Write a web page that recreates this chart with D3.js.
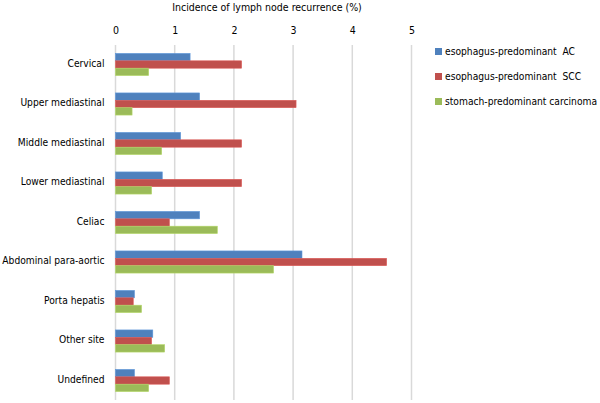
<!DOCTYPE html>
<html><head><meta charset="utf-8">
<script src="https://cdn.jsdelivr.net/npm/d3@7"></script>
<style>body{margin:0;background:#fff;} svg{display:block;font-family:"DejaVu Sans Condensed","DejaVu Sans",sans-serif;}</style>
</head><body>
<svg id="c" width="600" height="403"></svg>
<script>
const categories = ["Cervical","Upper mediastinal","Middle mediastinal","Lower mediastinal","Celiac","Abdominal para-aortic","Porta hepatis","Other site","Undefined"];
const seriesNames = ["esophagus-predominant  AC","esophagus-predominant  SCC","stomach-predominant carcinoma"];
const acValues = [1.26,1.42,1.10,0.79,1.42,3.15,0.32,0.63,0.32];
const sccValues = [2.13,3.05,2.13,2.13,0.91,4.58,0.30,0.61,0.91];
const stomachValues = [0.56,0.28,0.78,0.61,1.72,2.67,0.44,0.83,0.56];
const tickValues = [0,1,2,3,4,5];
const axisTitle = "Incidence of lymph node recurrence (%)";
const colors = ["#4F81BD","#C0504D","#9BBB59"];

const FONT = "DejaVu Sans Condensed, DejaVu Sans, sans-serif";
const series = [acValues, sccValues, stomachValues];
const svg = d3.select("#c");
const x = d3.scaleLinear().domain([0,5]).range([115.5, 411.5]);
const y = d3.scaleBand().domain(categories).range([44.75, 400.25]).paddingInner(0.44).paddingOuter(0.22);
const y1 = d3.scaleBand().domain([0,1,2]).range([0, y.bandwidth()]);

// gridlines
svg.append("g").selectAll("line").data(tickValues).join("line")
  .attr("x1", d=>x(d)).attr("x2", d=>x(d)).attr("y1", 45).attr("y2", 400)
  .attr("stroke", "#d9d9d9").attr("stroke-width", 1.5);

// top axis labels
const ax = svg.append("g").attr("transform","translate(0,34)")
  .call(d3.axisTop(x).tickValues(tickValues).tickSize(0).tickPadding(0).tickFormat(d3.format("d")));
ax.select(".domain").remove();
ax.selectAll("text").attr("font-size", 10.5).attr("fill","#000").attr("font-family", FONT);

svg.append("text").attr("x", 267).attr("y", 11).attr("text-anchor","middle").attr("font-family", FONT)
  .attr("font-size", 10.5).attr("fill","#000").text(axisTitle);

// bars
const g = svg.append("g");
categories.forEach((c, i) => {
  series.forEach((s, j) => {
    g.append("rect")
      .attr("x", x(0)).attr("y", y(c) + y1(j))
      .attr("width", x(s[i]) - x(0)).attr("height", y1.bandwidth())
      .attr("fill", colors[j]).attr("stroke", d3.color(colors[j]).brighter(0.4)).attr("stroke-width", 0.6);
  });
});

// category labels
const ay = svg.append("g").attr("transform", "translate(104.5,0)")
  .call(d3.axisLeft(y).tickSize(0).tickPadding(0));
ay.select(".domain").remove();
ay.selectAll("text").attr("font-size", 10.2).attr("fill","#000").attr("font-family", FONT)
  .attr("dy", "0.2em");

// legend
const lg = svg.append("g");
seriesNames.forEach((n, j) => {
  const yy = 51.5 + j*25;
  lg.append("rect").attr("x", 435).attr("y", yy-3.5).attr("width", 7).attr("height", 7).attr("fill", colors[j]);
  lg.append("text").attr("x", 445).attr("y", yy).attr("dy","0.35em").attr("font-size", 10.2).attr("font-family", FONT)
    .attr("fill","#000").style("white-space","pre").text(n);
});
</script>
</body></html>
